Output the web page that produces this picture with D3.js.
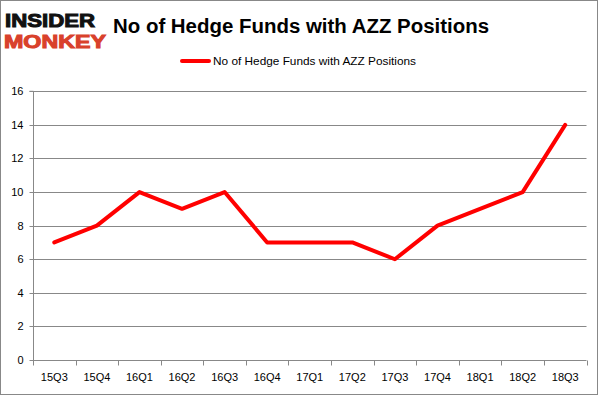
<!DOCTYPE html>
<html><head><meta charset="utf-8">
<script src="https://cdn.jsdelivr.net/npm/d3@7"></script>
<style>body{margin:0;background:#fff}svg{display:block}</style>
</head><body>
<script>
const categories = ["15Q3","15Q4","16Q1","16Q2","16Q3","16Q4","17Q1","17Q2","17Q3","17Q4","18Q1","18Q2","18Q3"];
const values = [7,8,10,9,10,7,7,7,6,8,9,10,14];
const yTicks = [0,2,4,6,8,10,12,14,16];
const title = "No of Hedge Funds with AZZ Positions";
const seriesName = "No of Hedge Funds with AZZ Positions";

(function(){
const W = 601, H = 396;
const svg = d3.select("body").append("svg").attr("width", W).attr("height", H);
svg.append("rect").attr("x",0.5).attr("y",0.5).attr("width",597).attr("height",394)
  .attr("fill","#fff").attr("stroke","#888").attr("stroke-width",1);

const pLeft = 33, pRight = 586.5, pTop = 91.3, pBottom = 360;
const x = d3.scaleBand().domain(categories).range([pLeft, pRight]);
const y = d3.scaleLinear().domain([0,16]).range([pBottom, pTop]);

// gridlines
svg.append("g").selectAll("line").data(yTicks.filter(d=>d>0)).join("line")
  .attr("x1", pLeft).attr("x2", pRight)
  .attr("y1", d=>Math.round(y(d))+0.5).attr("y2", d=>Math.round(y(d))+0.5)
  .attr("stroke","#888").attr("stroke-width",1);

const font = "Liberation Sans, Arial, sans-serif";
// y axis
const yAxis = svg.append("g").attr("transform",`translate(${pLeft+0.5},0)`)
  .call(d3.axisLeft(y).tickValues(yTicks).tickSize(4).tickPadding(6));
yAxis.select(".domain").attr("stroke","#888").attr("d",`M-4,${y(16)}H0V${pBottom}`);
yAxis.selectAll(".tick line").attr("stroke","#888");
yAxis.selectAll(".tick").attr("transform", d=>`translate(0,${Math.round(y(d))+0.5})`);
yAxis.selectAll("text").attr("font-family",font).attr("font-size","11px").attr("fill","#000");

// x axis
const xAxis = svg.append("g").attr("transform",`translate(0,${Math.round(pBottom)+0.5})`)
  .call(d3.axisBottom(x).tickSize(0).tickPadding(13));
xAxis.select(".domain").attr("stroke","#888").attr("d",`M${pLeft},0H${pRight}`);
xAxis.selectAll("text").attr("font-family",font).attr("font-size","11px").attr("fill","#000");
const bounds = categories.map(c=>x(c)).concat([pRight]);
xAxis.append("g").selectAll("line").data(bounds).join("line")
  .attr("x1",d=>Math.round(d)+0.5).attr("x2",d=>Math.round(d)+0.5)
  .attr("y1",0).attr("y2",5).attr("stroke","#888");

// line
const line = d3.line().x((d,i)=>x(categories[i])+x.bandwidth()/2).y(d=>y(d));
svg.append("path").datum(values).attr("d",line).attr("fill","none")
  .attr("stroke","#ff0000").attr("stroke-width",4)
  .attr("stroke-linejoin","round").attr("stroke-linecap","round");

// title
svg.append("text").attr("x",301).attr("y",33).attr("text-anchor","middle")
  .attr("font-family",font).attr("font-weight","bold").attr("font-size","20px")
  .attr("textLength",376).attr("lengthAdjust","spacingAndGlyphs").text(title);

// legend
svg.append("line").attr("x1",182).attr("x2",209).attr("y1",61).attr("y2",61)
  .attr("stroke","#ff0000").attr("stroke-width",4).attr("stroke-linecap","round");
svg.append("text").attr("x",213).attr("y",65).attr("font-family",font).attr("font-size","11px")
  .attr("textLength",203).attr("lengthAdjust","spacingAndGlyphs").text(seriesName);

// logo
svg.append("text").attr("x",5).attr("y",27).attr("font-family",font)
  .attr("font-weight","900").attr("font-size","18px").attr("fill","#111")
  .attr("stroke","#111").attr("stroke-width",1)
  .attr("textLength",90).attr("lengthAdjust","spacingAndGlyphs").text("INSIDER");
svg.append("text").attr("x",4).attr("y",47.5).attr("font-family",font)
  .attr("font-weight","900").attr("font-size","18px").attr("fill","#d9412b")
  .attr("stroke","#d9412b").attr("stroke-width",1)
  .attr("textLength",102).attr("lengthAdjust","spacingAndGlyphs").text("MONKEY");
})();
</script>
</body></html>
